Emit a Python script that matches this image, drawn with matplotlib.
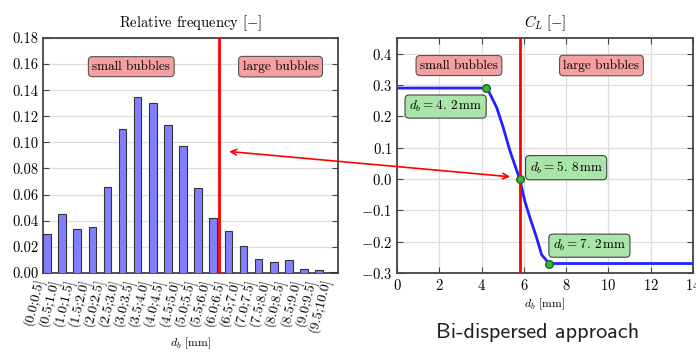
import numpy as np
import matplotlib
matplotlib.use("Agg")
import matplotlib.pyplot as plt
from matplotlib.patches import ConnectionPatch

plt.rcParams['font.family'] = 'cmr10'
plt.rcParams['mathtext.fontset'] = 'cm'
plt.rcParams['axes.formatter.use_mathtext'] = True

bins = ['(0.0;0.5]', '(0.5;1.0]', '(1.0;1.5]', '(1.5;2.0]', '(2.0;2.5]',
        '(2.5;3.0]', '(3.0;3.5]', '(3.5;4.0]', '(4.0;4.5]', '(4.5;5.0]',
        '(5.0;5.5]', '(5.5;6.0]', '(6.0;6.5]', '(6.5;7.0]', '(7.0;7.5]',
        '(7.5;8.0]', '(8.0;8.5]', '(8.5;9.0]', '(9.0;9.5]', '(9.5;10.0]']
freq = [0.030, 0.045, 0.034, 0.035, 0.066, 0.110, 0.135, 0.130, 0.113, 0.097,
        0.065, 0.042, 0.032, 0.021, 0.011, 0.008, 0.010, 0.003, 0.002, 0.001]

# lift coefficient curve
d_b = [0.0, 4.2, 4.35, 4.72, 5.03, 5.35, 5.8, 6.05, 6.29, 6.61, 6.84, 7.2, 14.0]
c_l = [0.29, 0.29, 0.278, 0.227, 0.163, 0.088, 0.0, -0.072, -0.124, -0.189, -0.242, -0.27, -0.27]
d_pts = [4.2, 5.8, 7.2]
c_pts = [0.29, 0.0, -0.27]
d_split = 5.8

pink = dict(boxstyle='round,pad=0.3', fc='#f4a0a0', ec='#555555', lw=0.8)
green = dict(boxstyle='round,pad=0.3', fc='#a9e4a9', ec='#444444', lw=0.8)
spine_c = '#444444'
fs = 9.5
tfs = 10.5

fig = plt.figure(figsize=(6.96, 3.54), dpi=100)
ax1 = fig.add_axes([0.062, 0.229, 0.4236, 0.6638])
ax2 = fig.add_axes([0.5704, 0.229, 0.4253, 0.6638])

# ---- left: histogram
x = np.arange(len(freq)) * 1.0
ax1.bar(x, freq, width=0.5, align='edge', color='#8080ff', edgecolor='#333333', linewidth=0.8, zorder=3)
ax1.axvline(d_split / 0.5, color='red', lw=2, zorder=4)
ax1.set_xlim(0, 19.5)
ax1.set_ylim(0, 0.18)
ax1.set_yticks(np.arange(0, 0.181, 0.02))
ax1.set_yticklabels(['%.2f' % v for v in np.arange(0, 0.181, 0.02)], fontsize=tfs)
ax1.set_xticks(x + 0.25)
ax1.set_xticklabels(bins, rotation=76, ha='right', fontsize=10, style='italic')
ax1.tick_params(axis='x', length=0, pad=3)
ax1.tick_params(axis='y', direction='in', right=True, length=4, color=spine_c)
ax1.yaxis.grid(True, color='#dddddd', lw=0.9, zorder=0)
ax1.set_title(r'Relative frequency $[-]$', fontsize=fs + 1, pad=8)
ax1.text(0.5, -0.3, r'$d_b$ [mm]', transform=ax1.transAxes, ha='center', va='center', fontsize=fs - 1)
ax1.text(5.83, 0.158, 'small bubbles', ha='center', va='center', fontsize=fs, bbox=pink, zorder=5)
ax1.text(15.7, 0.158, 'large bubbles', ha='center', va='center', fontsize=fs, bbox=pink, zorder=5)

# ---- right: lift coefficient
ax2.plot(d_b, c_l, color='#2222ff', lw=2, zorder=3)
ax2.axvline(d_split, color='red', lw=2, zorder=4)
ax2.plot(d_pts, c_pts, 'o', color='#3cb33c', mec='#226622', ms=5.5, zorder=5)
ax2.set_xlim(0, 14)
ax2.set_ylim(-0.3, 0.45)
ax2.set_xticks(np.arange(0, 15, 2))
ax2.set_yticks(np.arange(-0.3, 0.41, 0.1))
ax2.tick_params(axis='both', direction='in', top=True, right=True, length=4, labelsize=tfs, color=spine_c)
ax2.grid(True, color='#dddddd', lw=0.9, zorder=0)
ax2.set_title(r'$C_L\ [-]$', fontsize=fs + 1, pad=8)
ax2.set_xlabel(r'$d_b$ [mm]', fontsize=fs - 1, labelpad=3)
ax2.text(2.93, 0.362, 'small bubbles', ha='center', va='center', fontsize=fs, bbox=pink, zorder=6)
ax2.text(9.67, 0.362, 'large bubbles', ha='center', va='center', fontsize=fs, bbox=pink, zorder=6)
ax2.text(2.3, 0.231, r'$d_b = 4.\,2\,\mathrm{mm}$', ha='center', va='center', fontsize=fs, bbox=green, zorder=6)
ax2.text(8.0, 0.036, r'$d_b = 5.\,8\,\mathrm{mm}$', ha='center', va='center', fontsize=fs, bbox=green, zorder=6)
ax2.text(9.1, -0.213, r'$d_b = 7.\,2\,\mathrm{mm}$', ha='center', va='center', fontsize=fs, bbox=green, zorder=6)

for ax in (ax1, ax2):
    for s in ax.spines.values():
        s.set_color(spine_c)
        s.set_linewidth(1.3)

con = ConnectionPatch(xyA=(12.3, 0.093), coordsA=ax1.transData,
                      xyB=(5.35, 0.007), coordsB=ax2.transData,
                      arrowstyle='<->', color='red', lw=1.2, mutation_scale=10)
fig.add_artist(con)

fig.text(0.772, 0.062, 'Bi-dispersed approach', ha='center', va='center',
         fontsize=16, family='cmss10', color='#222222')

fig.savefig('out.png', dpi=100)
